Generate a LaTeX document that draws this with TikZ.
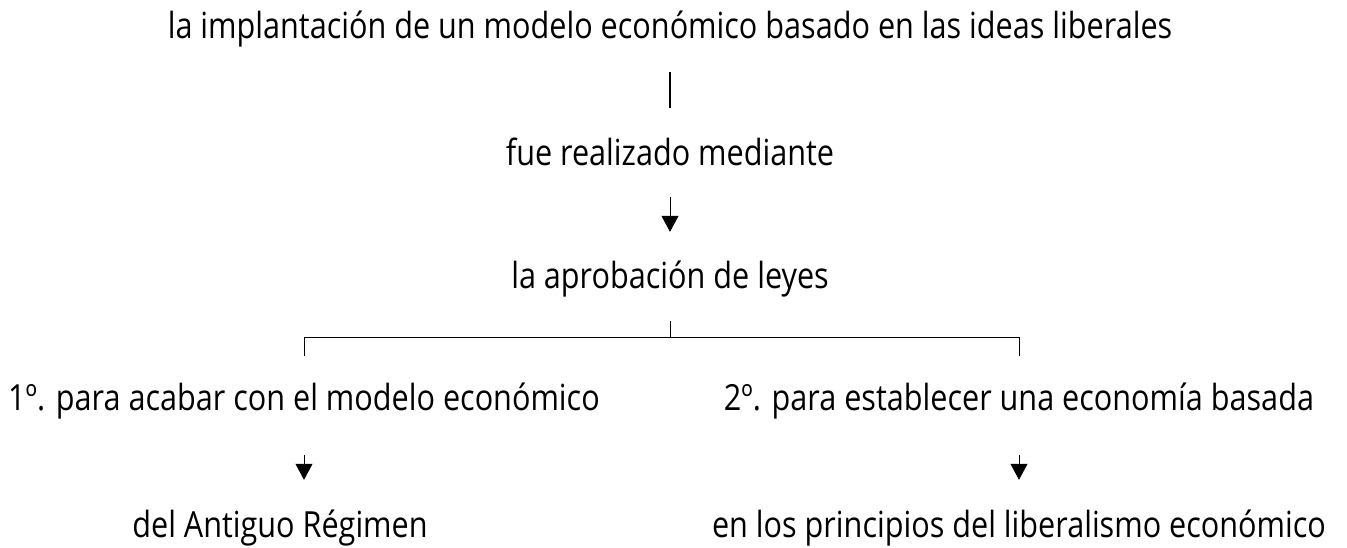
\documentclass[tikz,border=0pt]{standalone}
\usepackage{fontspec}
\setmainfont[FakeStretch=0.85]{Open Sans}
\usetikzlibrary{arrows.meta}

\begin{document}
\begin{tikzpicture}[x=1pt, y=-1pt,
        concept/.style={anchor=base, inner sep=0pt, text height=26pt, text depth=8pt,
            font=\fontsize{36}{42}\selectfont},
        link/.style={-{Triangle[width=17pt, length=16pt]}, line width=0.8pt},
        branch/.style={line width=0.8pt}]
        \useasboundingbox (0, 0) rectangle (1347, 547);

        % Main idea
        \node[concept] (modelo) at (670, 38)
            {la implantación de un modelo económico basado en las ideas liberales};
        \node[concept] (medio) at (670, 165) {fue realizado mediante};
        \draw[line width=2.5pt, shorten <=26pt, shorten >=31pt] (modelo.south) -- (medio.north);

        % Laws
        \node[concept] (leyes) at (670, 288) {la aprobación de leyes};
        \draw[link, shorten <=24pt, shorten >=30pt] (medio.south) -- (leyes.north);

        % Two aims
        \node[concept] (primero) at (304, 410) {1º. para acabar con el modelo económico};
        \node[concept] (segundo) at (1019, 410) {2º. para establecer una economía basada};
        \draw[branch] ([yshift=-25pt]leyes.south) -- ([yshift=-41pt]leyes.south) coordinate (split);
        \draw[branch] ([yshift=28pt]primero.north) |- (split) -| ([yshift=28pt]segundo.north);

        % Continuations
        \node[concept] (regimen) at (280, 537) {del Antiguo Régimen};
        \node[concept] (principios) at (1019, 537) {en los principios del liberalismo económico};
        \draw[link, shorten <=37pt, shorten >=31pt] (primero.south) -- (primero.south |- regimen.north);
        \draw[link, shorten <=37pt, shorten >=31pt] (segundo.south) -- (principios.north);
    \end{tikzpicture}
\end{document}
